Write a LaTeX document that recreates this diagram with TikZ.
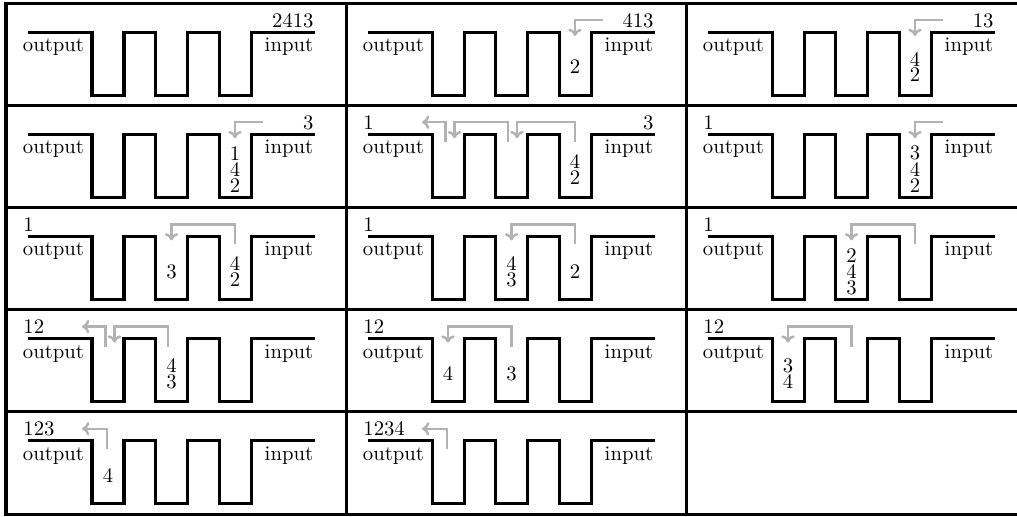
\documentclass[tikz,border=0pt]{standalone}
\usepackage{tikz}
\usetikzlibrary{arrows.meta}

% stack centres (px)
\def\sa{102}
\def\sb{165.5}
\def\sc{229}

% the three wells with their labels
\newcommand{\rails}[1]{%
  \draw[rail] (22,29) -- (86,29) -- (86,92) -- (118,92) -- (118,29)
    -- (149.5,29) -- (149.5,92) -- (181.5,92) -- (181.5,29)
    -- (213,29) -- (213,92) -- (245,92) -- (245,29) -- (309,29);
  \node[io, anchor=base west] (#1out) at (16.5,48.5) {output};
  \node[io, anchor=base east] (#1in) at (307.5,48.5) {input};}
% contents of one stack, top first: name, x, count, digits
\newcommand{\pile}[4]{%
  \foreach \d [count=\i] in {#4}
    \node[stk] (#1-\i) at ({#2},{64+(\i-(#3+1)/2)*16}) {\d};}
% moves
\newcommand{\feed}[1]{\draw[mv] (257,17) -| (#1,33);}
\newcommand{\hop}[2]{\draw[mv] (#1,37) |- (#2,17) -- (#2,33);}
\newcommand{\emit}[1]{\draw[mv] (#1,37) |- (76,17);}

\begin{document}
\begin{tikzpicture}[
    x=0.483pt, y=-0.483pt,
    rule/.style={line width=1.45pt, line cap=rect},
    rail/.style={line width=1.45pt, line join=miter},
    io/.style={inner sep=0pt},
    stk/.style={inner sep=0pt},
    mv/.style={line width=1.2pt, black!30, -{To[length=3.5pt,width=6.5pt]}}
]
\useasboundingbox (0,0) rectangle (1017,517);

% --- TABLE ---
\foreach \y in {3,105.2,207.4,309.6,411.8,514}
  \draw[rule] (6,\y) -- (1017,\y);
\foreach \x in {6,346,686}
  \draw[rule] (\x,3) -- (\x,514);

% --- ROW 1 ---
\begin{scope}[shift={(6,3)}]
  \rails{a1}
  \node[io, anchor=base east] (a1seq) at (308,24) {2413};
\end{scope}

\begin{scope}[shift={(346,3)}]
  \rails{a2}
  \node[io, anchor=base east] (a2seq) at (308,24) {413};
  \pile{a2s3}{\sc}{1}{2}
  \feed{\sc}
\end{scope}

\begin{scope}[shift={(686,3)}]
  \rails{a3}
  \node[io, anchor=base east] (a3seq) at (308,24) {13};
  \pile{a3s3}{\sc}{2}{4,2}
  \feed{\sc}
\end{scope}

% --- ROW 2 ---
\begin{scope}[shift={(6,105.2)}]
  \rails{b1}
  \node[io, anchor=base east] (b1seq) at (308,24) {3};
  \pile{b1s3}{\sc}{3}{1,4,2}
  \feed{\sc}
\end{scope}

\begin{scope}[shift={(346,105.2)}]
  \rails{b2}
  \node[io, anchor=base west] (b2res) at (17,24) {1};
  \node[io, anchor=base east] (b2seq) at (308,24) {3};
  \pile{b2s3}{\sc}{2}{4,2}
  \hop{\sc}{171}
  \hop{162}{108.5}
  \emit{99.5}
\end{scope}

\begin{scope}[shift={(686,105.2)}]
  \rails{b3}
  \node[io, anchor=base west] (b3res) at (17,24) {1};
  \pile{b3s3}{\sc}{3}{3,4,2}
  \feed{\sc}
\end{scope}

% --- ROW 3 ---
\begin{scope}[shift={(6,207.4)}]
  \rails{c1}
  \node[io, anchor=base west] (c1res) at (17,24) {1};
  \pile{c1s2}{\sb}{1}{3}
  \pile{c1s3}{\sc}{2}{4,2}
  \hop{\sc}{\sb}
\end{scope}

\begin{scope}[shift={(346,207.4)}]
  \rails{c2}
  \node[io, anchor=base west] (c2res) at (17,24) {1};
  \pile{c2s2}{\sb}{2}{4,3}
  \pile{c2s3}{\sc}{1}{2}
  \hop{\sc}{\sb}
\end{scope}

\begin{scope}[shift={(686,207.4)}]
  \rails{c3}
  \node[io, anchor=base west] (c3res) at (17,24) {1};
  \pile{c3s2}{\sb}{3}{2,4,3}
  \hop{\sc}{\sb}
\end{scope}

% --- ROW 4 ---
\begin{scope}[shift={(6,309.6)}]
  \rails{d1}
  \node[io, anchor=base west] (d1res) at (17,24) {12};
  \pile{d1s2}{\sb}{2}{4,3}
  \hop{162}{108.5}
  \emit{99.5}
\end{scope}

\begin{scope}[shift={(346,309.6)}]
  \rails{d2}
  \node[io, anchor=base west] (d2res) at (17,24) {12};
  \pile{d2s1}{\sa}{1}{4}
  \pile{d2s2}{\sb}{1}{3}
  \hop{\sb}{\sa}
\end{scope}

\begin{scope}[shift={(686,309.6)}]
  \rails{d3}
  \node[io, anchor=base west] (d3res) at (17,24) {12};
  \pile{d3s1}{\sa}{2}{3,4}
  \hop{\sb}{\sa}
\end{scope}

% --- ROW 5 ---
\begin{scope}[shift={(6,411.8)}]
  \rails{e1}
  \node[io, anchor=base west] (e1res) at (17,24) {123};
  \pile{e1s1}{\sa}{1}{4}
  \emit{101}
\end{scope}

\begin{scope}[shift={(346,411.8)}]
  \rails{e2}
  \node[io, anchor=base west] (e2res) at (17,24) {1234};
  \emit{101}
\end{scope}

\end{tikzpicture}
\end{document}
